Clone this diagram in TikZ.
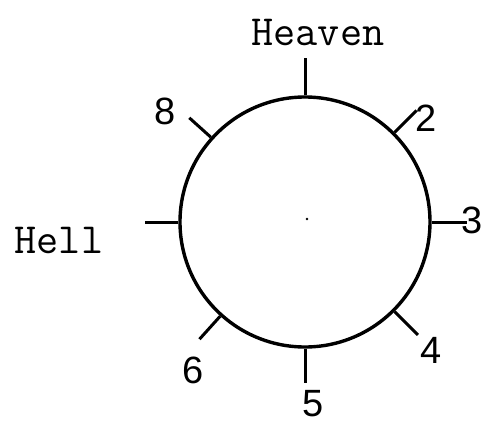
\documentclass[tikz,border=0pt]{standalone}
\usepackage{fontspec}
\setmainfont{Liberation Sans}
\begin{document}
\begin{tikzpicture}[x=1pt,y=-1pt,
  ring/.style={circle,draw,line width=3.4pt,minimum size=250pt,inner sep=0pt},
  tick/.style={line width=3pt},
  word/.style={font=\ttfamily\fontsize{43}{46}\selectfont,inner sep=0pt},
  digit/.style={font=\fontsize{38}{42}\selectfont,inner sep=0pt}]
\useasboundingbox (0,0) rectangle (483,424);
\node[ring] (c) at (305,222) {};
\fill (307,219) circle (1.4pt);
\draw[tick] (c.90) -- ++(-90:37) coordinate (t90);
\draw[tick] (c.45) -- ++(-45:31) coordinate (t45);
\draw[tick] (c.0) -- ++(0:35) coordinate (t0);
\draw[tick] (c.-45) -- ++(45:33) coordinate (tm45);
\draw[tick] (c.-90) -- ++(90:34) coordinate (tm90);
\draw[tick] (c.-132) -- ++(132:31) coordinate (tm135);
\draw[tick] (c.180) -- ++(180:33) coordinate (t180);
\draw[tick] (c.138) -- ++(-138:29) coordinate (t135);
\node[word] (heaven) at (318,32) {Heaven};
\node[word] (hell) at (59,240) {Hell};
\node[digit] (n2) at (426,118) {2};
\node[digit] (n3) at (472,220) {3};
\node[digit] (n4) at (431,350) {4};
\node[digit] (n5) at (313,404) {5};
\node[digit] (n6) at (193,370) {6};
\node[digit] (n8) at (165,111) {8};
\end{tikzpicture}
\end{document}
